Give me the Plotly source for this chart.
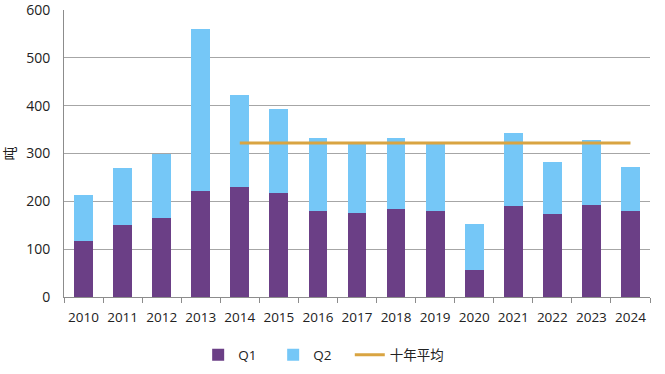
import plotly.graph_objects as go

years = ["2010", "2011", "2012", "2013", "2014", "2015", "2016", "2017",
         "2018", "2019", "2020", "2021", "2022", "2023", "2024"]
q1 = [118, 151, 165, 222, 231, 217, 179, 175, 183, 179, 57, 190, 174, 192, 179]
q2 = [95, 118, 135, 338, 191, 177, 154, 144, 150, 140, 96, 152, 108, 137, 93]
avg_years = ["2014", "2015", "2016", "2017", "2018", "2019", "2020", "2021",
             "2022", "2023", "2024"]
avg_values = [322, 322, 322, 322, 322, 322, 322, 322, 322, 322, 322]
y_ticks = [0, 100, 200, 300, 400, 500, 600]

font_family = "Open Sans, Noto Sans CJK SC, sans-serif"

fig = go.Figure()
fig.add_trace(go.Bar(x=years, y=q1, name="Q1", marker=dict(color="#6B3F86", line=dict(width=0)),
                     legend="legend"))
fig.add_trace(go.Bar(x=years, y=q2, name="Q2", marker=dict(color="#75C7F7", line=dict(width=0)),
                     legend="legend"))
fig.add_trace(go.Scatter(x=avg_years, y=avg_values, name="十年平均", mode="lines",
                         line=dict(color="#D9A441", width=3), legend="legend2"))

fig.update_layout(
    width=665, height=374,
    barmode="stack", bargap=0.52,
    plot_bgcolor="white", paper_bgcolor="white",
    margin=dict(l=64, r=15, t=10, b=77),
    font=dict(family=font_family, size=13.5, color="#222222"),
    showlegend=True,
    legend=dict(orientation="h", xref="container", yref="container",
                x=0.298, xanchor="left", y=0.051, yanchor="middle",
                font=dict(size=13.5), entrywidth=30, entrywidthmode="pixels",
                traceorder="normal"),
    legend2=dict(orientation="h", xref="container", yref="container",
                 x=0.526, xanchor="left", y=0.051, yanchor="middle",
                 font=dict(size=13.5)),
)
fig.update_xaxes(
    type="category", showline=True, linecolor="#8C8C8C", linewidth=1,
    ticks="outside", tickson="boundaries", ticklen=5, tickcolor="#8C8C8C",
    showgrid=False, tickfont=dict(size=13.5), tickangle=0, automargin=False,
    ticklabelstandoff=8,
)
fig.update_yaxes(
    range=[0, 600], tickvals=y_ticks, showline=True, linecolor="#8C8C8C", linewidth=1,
    showgrid=True, gridcolor="#A6A6A6", gridwidth=1, zeroline=False,
    ticks="", tickfont=dict(size=14), automargin=False, ticklabeloverflow="allow",
    ticklabelstandoff=10,
    title=dict(text="吨", font=dict(size=14), standoff=14),
)

fig.write_html("out.html", config={"displayModeBar": False},
               post_script="document.body.style.margin='0';")
